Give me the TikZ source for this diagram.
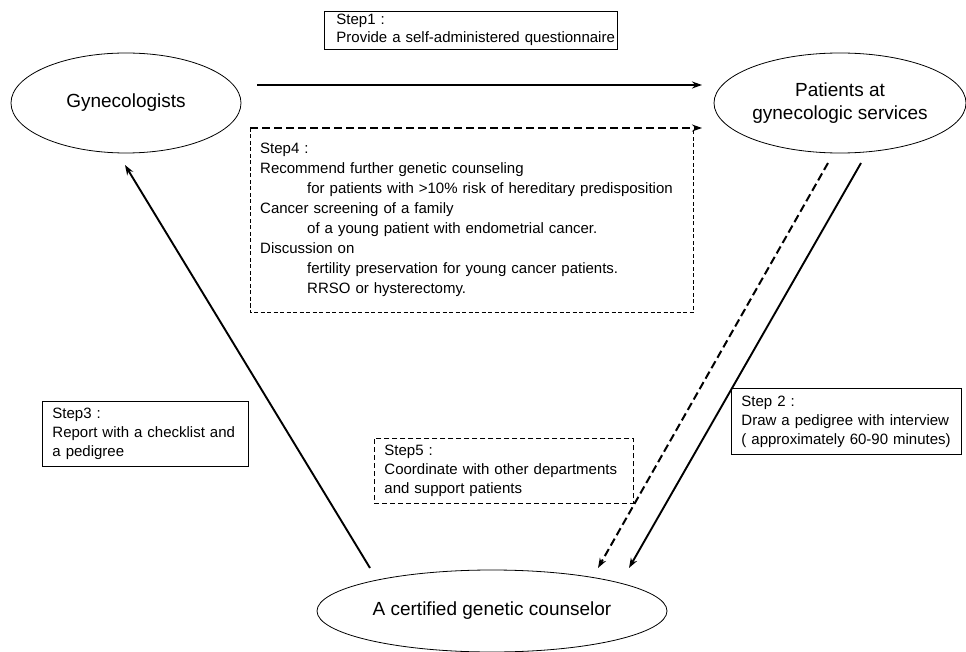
\documentclass[tikz,border=0pt]{standalone}
\usepackage{fontspec}
\setmainfont{Liberation Sans}
\usetikzlibrary{shapes.geometric,arrows.meta}
\begin{document}
\begin{tikzpicture}[x=1pt,y=-1pt,
  lbl/.style={font=\fontsize{15pt}{19pt}\selectfont, align=left, inner xsep=10pt, inner ysep=0pt, anchor=north west},
  solidbox/.style={lbl, draw, line width=0.9pt},
  dashbox/.style={lbl, draw, line width=0.9pt, dash pattern=on 5pt off 3pt},
  dashedge/.style={line width=0.9pt, dash pattern=on 4pt off 2.5pt},
  oval/.style={ellipse, draw, line width=0.8pt, inner sep=0pt, font=\fontsize{19pt}{23pt}\selectfont, align=center},
  tip/.style={-{Stealth[length=10pt,width=7pt]}},
  solidarrow/.style={tip, line width=1.9pt},
  dasharrow/.style={tip, line width=2pt, dash pattern=on 8pt off 4pt},
]
\useasboundingbox (0,0) rectangle (966,652);

% ellipses
\node[oval, minimum width=230pt, minimum height=100pt] (gyn) at (126,103) {Gynecologists};
\node[oval, minimum width=252pt, minimum height=100pt] (pat) at (840,103) {Patients at\\gynecologic services};
\node[oval, minimum width=350pt, minimum height=82pt] (cgc) at (492,611) {A certified genetic counselor};

% step boxes
\node[solidbox, inner xsep=12pt, text width=269pt, minimum height=38pt] (s1) at (324,11)
  {\mbox{Step1 :}\\[-1pt]\mbox{Provide a self-administered questionnaire}\rule[-5pt]{0pt}{1pt}};
\node[lbl, font=\fontsize{15pt}{20pt}\selectfont, text width=423pt, minimum height=184pt] (s4) at (250,128)
  {\mbox{Step4 :}\\
   \mbox{Recommend further genetic counseling}\\
   \mbox{\hspace*{47pt}for patients with >10\% risk of hereditary predisposition}\\
   \mbox{Cancer screening of a family}\\
   \mbox{\hspace*{47pt}of a young patient with endometrial cancer.}\\
   \mbox{Discussion on}\\
   \mbox{\hspace*{47pt}fertility preservation for young cancer patients.}\\
   \mbox{\hspace*{47pt}RRSO or hysterectomy.}};
\draw[dashedge] (s4.north west) -- (s4.south west) -- (s4.south east) -- (s4.north east);
\node[solidbox, text width=186pt, minimum height=65pt] (s3) at (42,401)
  {\mbox{Step3 :}\\\mbox{Report with a checklist and}\\\mbox{a pedigree}};
\node[solidbox, text width=210pt, minimum height=66pt] (s2) at (731,388)
  {\mbox{Step 2 :}\\\mbox{Draw a pedigree with interview}\\\mbox{( approximately 60-90 minutes)}};
\node[dashbox, text width=239pt, minimum height=65pt] (s5) at (374,438)
  {\mbox{Step5 :}\\\mbox{Coordinate with other departments}\\\mbox{and support patients}};

% arrow end points
\coordinate (a1s) at (257,85);
\coordinate (a1e) at (702,85);
\coordinate (a4e) at (702,128);
\coordinate (a2s) at (861,163);
\coordinate (a2e) at (629,568);
\coordinate (a5s) at (828,163);
\coordinate (a5e) at (598,568);
\coordinate (a3s) at (370,568);
\coordinate (a3e) at (125,165);

% connectors
\draw[solidarrow] (a1s) -- (a1e);
\draw[dasharrow, line width=1.4pt] (s4.north west) -- (a4e);
\draw[solidarrow] (a2s) -- (a2e);
\draw[dasharrow] (a5s) -- (a5e);
\draw[solidarrow] (a3s) -- (a3e);
\end{tikzpicture}
\end{document}
